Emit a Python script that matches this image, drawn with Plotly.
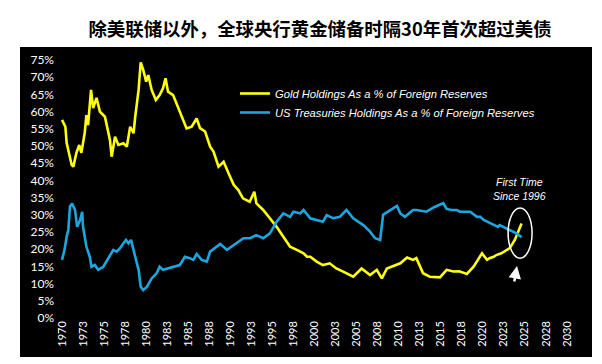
import plotly.graph_objects as go

# ---------------- data ----------------
gold_years = [1970.0, 1970.4, 1970.55, 1971.15, 1971.35, 1971.7, 1972.05, 1972.3, 1972.7, 1972.9,
              1973.1, 1973.45, 1973.7, 1974.1, 1974.5, 1975.1, 1975.7, 1975.9, 1976.3, 1976.7,
              1977.3, 1977.7, 1978.1, 1978.5, 1978.7, 1979.1, 1979.35, 1979.65, 1980.0, 1980.25,
              1980.65, 1981.15, 1981.6, 1982.0, 1982.3, 1982.6, 1983.2, 1983.6, 1984.0, 1984.4,
              1984.8, 1985.4, 1986.0, 1986.4, 1987.0, 1987.6, 1988.0, 1988.6, 1989.2, 1989.8,
              1990.4, 1990.95, 1991.5, 1992.3, 1992.85, 1993.1, 1993.9, 1994.7, 1995.5, 1996.3,
              1997.1, 1997.9, 1998.7, 1999.1, 1999.5, 2000.25, 2001.0, 2001.8, 2002.6, 2003.4,
              2004.6, 2005.6, 2006.6, 2007.4, 2008.0, 2008.6, 2009.4, 2010.2, 2011.0, 2011.7,
              2012.1, 2012.5, 2012.9, 2013.7, 2014.9, 2015.7, 2016.5, 2017.2, 2018.1, 2018.9,
              2019.7, 2019.9, 2020.5, 2020.8, 2021.3, 2021.6, 2022.2, 2023.2, 2023.8, 2024.3,
              2024.6]
gold_pct = [57.6, 55.6, 50.9, 44.5, 44.0, 47.9, 50.3, 48.0, 53.8, 59.0,
            56.1, 66.3, 61.0, 64.0, 60.0, 58.5, 51.7, 46.9, 52.7, 50.3,
            50.8, 49.8, 55.6, 53.7, 58.5, 66.3, 74.3, 72.1, 68.7, 70.6,
            66.3, 63.4, 64.8, 66.8, 69.7, 65.8, 64.8, 62.4, 60.0, 57.1,
            55.1, 55.6, 58.0, 55.2, 54.2, 49.8, 48.4, 44.0, 45.4, 42.0,
            38.7, 37.2, 34.8, 33.8, 36.7, 33.3, 31.4, 29.0, 26.5, 23.6,
            20.7, 19.8, 18.8, 17.8, 17.8, 16.4, 15.4, 15.9, 14.4, 13.5,
            12.0, 14.4, 12.5, 14.0, 11.5, 14.4, 15.2, 15.9, 17.6, 16.9,
            17.4, 15.4, 13.0, 12.0, 11.8, 14.0, 13.5, 13.6, 12.8, 14.9,
            17.8, 18.8, 16.9, 17.4, 17.8, 18.3, 18.8, 20.3, 22.7, 25.6,
            27.5]

ust_years = [1970.0, 1970.3, 1970.55, 1970.75, 1970.95, 1971.2, 1971.55, 1971.8, 1972.15, 1972.4,
             1972.5, 1972.9, 1973.3, 1973.5, 1973.9, 1974.3, 1974.9, 1975.5, 1976.1, 1976.5,
             1976.9, 1977.3, 1977.6, 1977.9, 1978.2, 1978.7, 1979.1, 1979.35, 1979.65, 1980.1,
             1980.65, 1981.25, 1981.6, 1982.0, 1982.6, 1983.2, 1984.0, 1984.6, 1985.2, 1985.6,
             1986.0, 1986.6, 1987.2, 1987.6, 1988.2, 1988.8, 1989.6, 1990.75, 1991.55, 1992.35,
             1993.1, 1993.9, 1994.7, 1995.5, 1996.3, 1997.1, 1997.5, 1998.3, 1998.7, 1999.5,
             2000.25, 2001.0, 2001.45, 2002.2, 2003.0, 2003.8, 2004.6, 2005.8, 2006.6, 2007.2,
             2007.8, 2008.15, 2008.4, 2009.0, 2009.8, 2010.2, 2010.75, 2011.7, 2012.1, 2013.3,
             2014.2, 2015.3, 2015.7, 2016.3, 2016.9, 2017.3, 2018.5, 2019.3, 2019.7, 2020.1,
             2020.8, 2021.8, 2022.0, 2023.2, 2024.0, 2024.6]
ust_pct = [16.9, 19.8, 23.6, 25.6, 32.4, 33.3, 31.4, 26.5, 28.5, 30.9,
           26.5, 20.7, 17.8, 14.9, 15.4, 14.0, 14.9, 17.4, 19.8, 19.3,
           20.3, 21.7, 22.7, 21.7, 22.7, 17.8, 14.0, 9.1, 8.1, 9.1,
           11.5, 13.0, 14.9, 14.0, 14.4, 14.9, 15.4, 17.8, 17.4, 16.9,
           18.6, 16.9, 16.4, 19.3, 20.3, 21.5, 19.8, 21.7, 23.2, 23.2,
           24.1, 23.2, 24.6, 28.0, 30.4, 29.4, 30.9, 30.4, 31.4, 29.0,
           28.5, 28.0, 29.9, 29.0, 29.4, 31.4, 29.0, 27.0, 25.1, 23.2,
           22.7, 30.0, 30.4, 31.4, 32.6, 30.4, 29.4, 31.4, 31.4, 30.9,
           32.2, 33.4, 31.7, 31.4, 31.4, 30.9, 30.9, 29.4, 29.4, 28.5,
           27.7, 26.5, 27.0, 25.6, 24.6, 23.5]

x_tick_vals = [1970 + 2.5 * i for i in range(25)]
x_tick_text = ["1970", "1973", "1975", "1978", "1980", "1983", "1985", "1988", "1990",
               "1993", "1995", "1998", "2000", "2003", "2005", "2008", "2010", "2013",
               "2015", "2018", "2020", "2023", "2025", "2028", "2030"]
y_tick_vals = list(range(0, 80, 5))
y_tick_text = [f"{v}%" for v in y_tick_vals]

title_text = "除美联储以外，全球央行黄金储备时隔30年首次超过美债"
gold_name = "Gold Holdings As a % of Foreign Reserves"
ust_name = "US Treasuries Holdings As a % of Foreign Reserves"
note_text = "First Time<br>Since 1996"

# ---------------- figure ----------------
fig = go.Figure()
fig.add_trace(go.Scatter(x=gold_years, y=gold_pct, mode="lines", name=gold_name,
                         line=dict(color="#FFFF10", width=2.6)))
fig.add_trace(go.Scatter(x=ust_years, y=ust_pct, mode="lines", name=ust_name,
                         line=dict(color="#1CA6E0", width=2.6)))

W, H = 602, 364
L, R, T, B = 55, 10, 60, 46
pw, ph = W - L - R, H - T - B

def px_to_paper_x(px):
    return (px - L) / pw

def px_to_paper_y(py):
    return (H - B - py) / ph

italic_font = "Liberation Sans, Arial, sans-serif"

fig.update_layout(
    width=W, height=H,
    margin=dict(l=L, r=R, t=T, b=B),
    paper_bgcolor="white",
    plot_bgcolor="black",
    hovermode=False,
    font=dict(family="Lato, Open Sans, sans-serif", color="white"),
    title=dict(text="<b>" + title_text + "</b>",
               font=dict(family="Noto Sans CJK SC", size=18.4, color="black"),
               x=320 / W, xref="container", xanchor="center",
               y=1 - 30 / H, yref="container", yanchor="middle"),
    showlegend=True,
    legend=dict(x=px_to_paper_x(235), y=px_to_paper_y(79), xanchor="left", yanchor="top",
                bgcolor="rgba(0,0,0,0)",
                font=dict(family=italic_font, size=11.2, color="white", style="italic"),
                tracegroupgap=4, traceorder="normal"),
    xaxis=dict(range=[1970 - 7 / 8.417, 2030 + 25 / 8.417],
               tickmode="array", tickvals=x_tick_vals, ticktext=x_tick_text,
               tickangle=-90, showgrid=False, zeroline=False, showline=False, ticks="",
               tickfont=dict(family="Lato, sans-serif", size=11, color="white")),
    yaxis=dict(range=[0, 75], tickmode="array", tickvals=y_tick_vals, ticktext=y_tick_text,
               showgrid=False, zeroline=False, showline=False, ticks="",
               tickfont=dict(family="Lato, sans-serif", size=12, color="white")),
    shapes=[
        dict(type="rect", xref="paper", yref="paper",
             x0=px_to_paper_x(20), x1=px_to_paper_x(592),
             y0=px_to_paper_y(357), y1=px_to_paper_y(47),
             fillcolor="black", line=dict(width=0), layer="below"),
        dict(type="circle", xref="x", yref="y",
             x0=2023.0, x1=2025.85, y0=17.4, y1=32.0,
             line=dict(color="white", width=1.5)),
    ],
    annotations=[
        dict(text=note_text, x=2024.3, y=37.4, xref="x", yref="y", showarrow=False,
             font=dict(family=italic_font, size=10.5, color="white", style="italic"),
             align="center"),
        dict(text="", x=2024.06, y=15.1, xref="x", yref="y", showarrow=True,
             ax=-3, ay=17, arrowhead=2, arrowsize=1, arrowwidth=2.5, arrowcolor="white"),
    ],
)

fig.write_html("out.html", config={"displayModeBar": False, "staticPlot": True},
               post_script="document.body.style.margin='0';document.body.style.padding='0';")
